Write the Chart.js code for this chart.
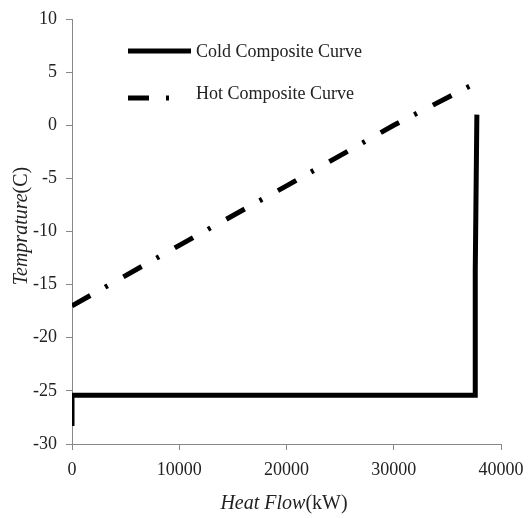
<!DOCTYPE html>
<html>
<head>
<meta charset="utf-8">
<script src="https://cdn.jsdelivr.net/npm/chart.js@4/dist/chart.umd.min.js"></script>
<style>
  html, body { margin: 0; padding: 0; background: #fff; }
  #wrap { width: 529px; height: 518px; }
</style>
</head>
<body>
<div id="wrap"><canvas id="composite"></canvas></div>
<script>
////////////////// Data ///////////////////////
const coldHeat = [0, 0, 37600, 37600, 37750];
const coldTemp = [-28.3, -25.4, -25.4, -13.6, 1];
const hotHeat = [0, 10000, 20000, 30000, 37700];
const hotTemp = [-17, -11.3, -5.7, 0, 4];
const seriesNames = ["Cold Composite Curve", "Hot Composite Curve"];
const xTicks = [0, 10000, 20000, 30000, 40000];
const yTicks = [-30, -25, -20, -15, -10, -5, 0, 5, 10];

const toPoints = (xs, ys) => xs.map((x, i) => ({ x: x, y: ys[i] }));

const SERIF = "'Liberation Serif', 'DejaVu Serif', serif";

// legend drawn inside the plot, like the original
const insideLegend = {
  id: "insideLegend",
  afterDraw(chart) {
    const c = chart.ctx;
    const rows = [
      { ds: chart.data.datasets[0], y: 51, end: 191, ty: 57 },
      { ds: chart.data.datasets[1], y: 98, end: 169, ty: 99 },
    ];
    c.save();
    rows.forEach((r) => {
      c.beginPath();
      c.lineWidth = r.ds.borderWidth;
      c.strokeStyle = r.ds.borderColor;
      c.lineCap = "butt";
      c.setLineDash(r.ds.borderDash || []);
      c.moveTo(128, r.y);
      c.lineTo(r.end, r.y);
      c.stroke();
      c.setLineDash([]);
      c.fillStyle = "#222";
      c.font = "18px " + SERIF;
      c.textBaseline = "alphabetic";
      c.textAlign = "left";
      c.fillText(r.ds.label, 196, r.ty);
    });
    c.restore();
  },
};

// axis titles with italic words + upright units
const axisTitles = {
  id: "axisTitles",
  afterDraw(chart) {
    const c = chart.ctx;
    c.save();
    c.fillStyle = "#222";
    c.textBaseline = "middle";
    const it = "italic 20px " + SERIF;
    const up = "20px " + SERIF;
    // x title
    c.font = it;
    const w1 = c.measureText("Heat Flow").width;
    c.font = up;
    const w2 = c.measureText("(kW)").width;
    let x0 = 284 - (w1 + w2) / 2;
    c.textAlign = "left";
    c.font = it;
    c.fillText("Heat Flow", x0, 504);
    c.font = up;
    c.fillText("(kW)", x0 + w1, 504);
    // y title
    c.translate(22, 226);
    c.rotate(-Math.PI / 2);
    c.font = it;
    const v1 = c.measureText("Temprature").width;
    c.font = up;
    const v2 = c.measureText("(C)").width;
    x0 = -(v1 + v2) / 2;
    c.font = it;
    c.fillText("Temprature", x0, 0);
    c.font = up;
    c.fillText("(C)", x0 + v1, 0);
    c.restore();
  },
};

const ctx = document.getElementById("composite");
const myChart = new Chart(ctx, {
  type: "scatter",
  data: {
    datasets: [
      {
        label: seriesNames[0],
        data: toPoints(coldHeat, coldTemp),
        showLine: true,
        borderColor: "#000",
        borderWidth: 5,
        pointRadius: 0,
        tension: 0,
      },
      {
        label: seriesNames[1],
        data: toPoints(hotHeat, hotTemp),
        showLine: true,
        borderColor: "#000",
        borderWidth: 5,
        borderDash: [21, 17, 3, 18],
        borderCapStyle: "butt",
        pointRadius: 0,
        tension: 0,
      },
    ],
  },
  options: {
    responsive: true,
    maintainAspectRatio: false,
    animation: false,
    layout: { padding: { top: 19, right: 28, left: 0, bottom: 0 } },
    scales: {
      x: {
        type: "linear",
        min: 0,
        max: 40000,
        afterBuildTicks: (s) => { s.ticks = xTicks.map((v) => ({ value: v })); },
        afterFit: (s) => {
          s.height = 74;
          s.paddingLeft = 0;
          s.paddingRight = 0;
        },
        ticks: {
          color: "#222",
          font: { family: SERIF, size: 18 },
          padding: 9,
          maxRotation: 0,
          callback: (v) => String(v),
        },
        grid: { drawOnChartArea: false, drawTicks: true, tickLength: 6, color: "#888" },
        border: { color: "#888", width: 1 },
      },
      y: {
        type: "linear",
        min: -30,
        max: 10,
        afterBuildTicks: (s) => { s.ticks = yTicks.map((v) => ({ value: v })); },
        afterFit: (s) => {
          s.width = 72;
          s.paddingTop = 0;
          s.paddingBottom = 0;
        },
        ticks: {
          color: "#222",
          font: { family: SERIF, size: 18 },
          padding: 9,
          callback: (v) => String(v),
        },
        grid: { drawOnChartArea: false, drawTicks: true, tickLength: 6, color: "#888" },
        border: { color: "#888", width: 1 },
      },
    },
    plugins: {
      legend: { display: false },
      tooltip: { enabled: false },
    },
  },
  plugins: [insideLegend, axisTitles],
});
</script>
</body>
</html>
